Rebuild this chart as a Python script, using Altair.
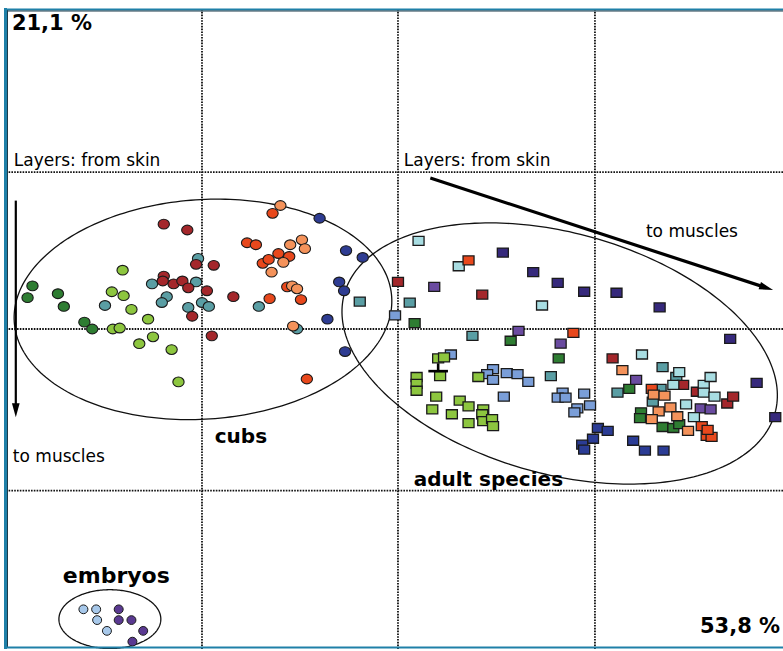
import altair as alt
import numpy as np
import pandas as pd

# ---------------- scale / layout values (PCA score units) ----------------
X_DOMAIN = [-4.0, 3.929]
Y_DOMAIN = [-3.265, 3.265]
GRID_X = [-2.0, 0.0, 2.01]
GRID_Y = [1.60, 0.0, -1.65]

# ---------------- cubs (circles) ----------------
cub_darkgreen_x = [-3.73, -3.78, -3.47, -3.41, -3.20, -3.12]
cub_darkgreen_y = [0.44, 0.32, 0.36, 0.23, 0.07, 0.00]
cub_lightgreen_x = [-2.81, -2.92, -2.80, -2.72, -2.55, -2.91, -2.84, -2.50, -2.64, -2.31, -2.24]
cub_lightgreen_y = [0.60, 0.38, 0.34, 0.20, 0.10, 0.00, 0.01, -0.08, -0.15, -0.21, -0.54]
cub_teal_x = [-2.51, -2.36, -2.41, -2.14, -2.99, -2.04, -2.06, -2.00, -1.93, -1.42, -1.03]
cub_teal_y = [0.46, 0.33, 0.27, 0.22, 0.24, 0.72, 0.48, 0.27, 0.23, 0.23, 0.00]
cub_darkred_x = [-2.39, -2.15, -2.39, -2.40, -2.29, -2.20, -2.14, -2.06, -2.10, -1.88, -1.95, -1.68, -1.90]
cub_darkred_y = [1.07, 1.01, 0.54, 0.49, 0.46, 0.49, 0.42, 0.66, 0.13, 0.65, 0.39, 0.33, -0.07]
cub_redorange_x = [-1.28, -1.54, -1.45, -1.38, -1.32, -1.22, -1.11, -1.31, -1.13, -0.99, -0.93]
cub_redorange_y = [1.18, 0.88, 0.86, 0.67, 0.71, 0.77, 0.74, 0.31, 0.43, 0.30, -0.51]
cub_lightorange_x = [-1.20, -1.10, -0.98, -0.95, -1.17, -1.29, -1.08, -1.03, -1.07]
cub_lightorange_y = [1.26, 0.86, 0.91, 0.82, 0.68, 0.58, 0.44, 0.41, 0.03]
cub_navy_x = [-0.80, -0.53, -0.36, -0.60, -0.55, -0.72, -0.54]
cub_navy_y = [1.13, 0.80, 0.73, 0.48, 0.39, 0.10, -0.23]

# ---------------- embryos (small circles) ----------------
emb_lightblue_x = [-3.21, -3.08, -3.07, -2.97]
emb_lightblue_y = [-2.86, -2.86, -2.97, -3.08]
emb_purple_x = [-2.85, -2.85, -2.72, -2.60, -2.71]
emb_purple_y = [-2.86, -2.97, -2.97, -3.08, -3.19]

# ---------------- adult species (squares) ----------------
ad_indigo_x = [1.07, 1.38, 1.63, 1.90, 2.23, 2.67, 3.39, 3.66, 3.85]
ad_indigo_y = [0.78, 0.58, 0.47, 0.38, 0.37, 0.22, -0.10, -0.55, -0.90]
ad_navy_x = [2.04, 2.14, 1.99, 1.88, 1.90, 2.40, 2.52, 2.71]
ad_navy_y = [-1.01, -1.04, -1.12, -1.18, -1.23, -1.14, -1.24, -1.24]
ad_cornflower_x = [-0.03, 0.54, 0.97, 0.91, 0.97, 1.11, 1.22, 1.33, 1.08, 1.68, 1.63, 1.71, 1.90, 1.96, 1.83, 1.80]
ad_cornflower_y = [0.14, -0.26, -0.41, -0.46, -0.52, -0.45, -0.46, -0.54, -0.69, -0.65, -0.70, -0.70, -0.66, -0.78, -0.81, -0.85]
ad_lightgreen_x = [0.41, 0.47, 0.43, 0.19, 0.19, 0.19, 0.39, 0.82, 0.35, 0.63, 0.72, 0.55, 0.87, 0.86, 0.72, 0.87, 0.96, 0.97]
ad_lightgreen_y = [-0.30, -0.29, -0.48, -0.49, -0.56, -0.63, -0.69, -0.49, -0.82, -0.73, -0.79, -0.87, -0.82, -0.87, -0.96, -0.94, -0.92, -0.99]
ad_teal_x = [-0.39, 0.12, 0.76, 1.56, 2.24, 2.70, 2.84, 2.68, 2.60]
ad_teal_y = [0.28, 0.27, -0.07, -0.48, -0.65, -0.39, -0.49, -0.61, -0.74]
ad_darkgreen_x = [0.17, 1.15, 1.64, 2.36, 2.48, 2.47, 2.70, 2.81, 2.87]
ad_darkgreen_y = [0.06, -0.12, -0.30, -0.61, -0.85, -0.91, -1.00, -1.01, -0.97]
ad_purple_x = [0.37, 1.23, 1.66, 2.43, 3.09, 3.19]
ad_purple_y = [0.43, -0.02, -0.15, -0.52, -0.81, -0.82]
ad_darkred_x = [0.00, 0.86, 2.19, 2.91, 3.05, 3.36, 3.42]
ad_darkred_y = [0.48, 0.35, -0.30, -0.57, -0.64, -0.76, -0.69]
ad_lightcyan_x = [0.21, 0.62, 1.47, 2.49, 2.87, 2.81, 3.12, 3.19, 3.12, 3.23, 2.94, 3.02]
ad_lightcyan_y = [0.90, 0.64, 0.24, -0.26, -0.44, -0.57, -0.57, -0.49, -0.65, -0.69, -0.77, -0.90]
ad_redorange_x = [0.72, 1.79, 2.59, 3.10, 3.15, 3.20, 3.16]
ad_redorange_y = [0.70, -0.04, -0.61, -0.99, -1.09, -1.10, -1.03]
ad_lightorange_x = [2.29, 2.61, 2.72, 2.66, 2.78, 2.85, 2.59, 2.96]
ad_lightorange_y = [-0.42, -0.67, -0.68, -0.84, -0.80, -0.89, -0.92, -1.04]

# series: (name, group, colour, xs, ys)
SERIES = [
    ("cub dark green", "cub", "#2E7D32", cub_darkgreen_x, cub_darkgreen_y),
    ("cub light green", "cub", "#8DC63F", cub_lightgreen_x, cub_lightgreen_y),
    ("cub teal", "cub", "#5A9EA4", cub_teal_x, cub_teal_y),
    ("cub dark red", "cub", "#A4272B", cub_darkred_x, cub_darkred_y),
    ("cub red orange", "cub", "#E8481C", cub_redorange_x, cub_redorange_y),
    ("cub light orange", "cub", "#F4925A", cub_lightorange_x, cub_lightorange_y),
    ("cub navy", "cub", "#2E3C92", cub_navy_x, cub_navy_y),
    ("embryo light blue", "emb", "#A7C8EA", emb_lightblue_x, emb_lightblue_y),
    ("embryo purple", "emb", "#5A3991", emb_purple_x, emb_purple_y),
    ("adult indigo", "adult", "#36297C", ad_indigo_x, ad_indigo_y),
    ("adult navy", "adult", "#2B3C95", ad_navy_x, ad_navy_y),
    ("adult cornflower", "adult", "#7A9ED8", ad_cornflower_x, ad_cornflower_y),
    ("adult light green", "adult", "#8DC63F", ad_lightgreen_x, ad_lightgreen_y),
    ("adult teal", "adult", "#5A9EA4", ad_teal_x, ad_teal_y),
    ("adult dark green", "adult", "#2E7D32", ad_darkgreen_x, ad_darkgreen_y),
    ("adult purple", "adult", "#6A4BA0", ad_purple_x, ad_purple_y),
    ("adult dark red", "adult", "#A4272B", ad_darkred_x, ad_darkred_y),
    ("adult light cyan", "adult", "#A8DDE2", ad_lightcyan_x, ad_lightcyan_y),
    ("adult red orange", "adult", "#E8481C", ad_redorange_x, ad_redorange_y),
    ("adult light orange", "adult", "#F4925A", ad_lightorange_x, ad_lightorange_y),
]

# ellipses: (name, centre x, centre y, semi-axis a, semi-axis b, angle deg)
ELLIPSES = [
    ("cubs", -1.99, 0.20, 1.93, 1.12, 3.8),
    ("adults", 1.65, -0.25, 2.28, 1.23, -15.5),
    ("embryos", -2.94, -2.96, 0.52, 0.30, 0.0),
]

# annotations: (text, x, y, size, weight, align)
LABELS = [
    ("21,1 %", -3.94, 3.05, 21, "bold", "left"),
    ("53,8 %", 3.90, -3.10, 21, "bold", "right"),
    ("Layers: from skin", -3.92, 1.66, 17, "normal", "left"),
    ("Layers: from skin", 0.06, 1.66, 17, "normal", "left"),
    ("to muscles", 2.53, 0.94, 17, "normal", "left"),
    ("to muscles", -3.93, -1.36, 17, "normal", "left"),
    ("cubs", -1.87, -1.16, 20, "bold", "left"),
    ("adult species", 0.16, -1.60, 20, "bold", "left"),
    ("embryos", -3.42, -2.59, 22, "bold", "left"),
]

# arrows: start (x, y), head centre (x, y), head angle, line width
ARROW_X = [-3.90, 0.33]
ARROW_Y = [1.31, 1.54]
ARROW_X2 = [-3.90, 3.76]
ARROW_Y2 = [-0.83, 0.42]
ARROW_ANGLE = [90, 18.1]
ARROW_WIDTH = [2.2, 3.2]

# small "T" mark on the adult cloud
TMARK_X = [0.41, 0.31]
TMARK_Y = [-0.35, -0.43]
TMARK_X2 = [0.41, 0.51]
TMARK_Y2 = [-0.43, -0.43]

# ---------------- build tables ----------------
rows = []
for name, grp, col, xs, ys in SERIES:
    for xv, yv in zip(xs, ys):
        rows.append({"series": name, "group": grp, "x": xv, "y": yv})
pts = pd.DataFrame(rows)
names = [s[0] for s in SERIES]
colors = [s[2] for s in SERIES]

ell_rows = []
t = np.linspace(0, 2 * np.pi, 241)
for name, cx, cy, a, b, ang in ELLIPSES:
    th = np.deg2rad(ang)
    ex = cx + a * np.cos(t) * np.cos(th) - b * np.sin(t) * np.sin(th)
    ey = cy + a * np.cos(t) * np.sin(th) + b * np.sin(t) * np.cos(th)
    for i, (xv, yv) in enumerate(zip(ex, ey)):
        ell_rows.append({"ell": name, "ord": i, "x": float(xv), "y": float(yv)})
ell = pd.DataFrame(ell_rows)

xs = alt.Scale(domain=X_DOMAIN, nice=False, zero=False)
ys = alt.Scale(domain=Y_DOMAIN, nice=False, zero=False)
fill = alt.Fill("series:N", scale=alt.Scale(domain=names, range=colors), legend=None)

CIRCLE = "M-1.1,0A1.1,0.95 0 1,0 1.1,0A1.1,0.95 0 1,0 -1.1,0Z"
EMB = "M-0.9,0A0.9,0.88 0 1,0 0.9,0A0.9,0.88 0 1,0 -0.9,0Z"
SQUARE = "M-1.1,-0.9H1.1V0.9H-1.1Z"
HEAD = "M1,0L-1,-0.55L-1,0.55Z"

TEAL = "#1F80A8"

grid_v = alt.Chart(pd.DataFrame({"x": GRID_X})).mark_rule(
    color="#111", strokeWidth=1.8, strokeDash=[1.6, 1.2]
).encode(x=alt.X("x:Q", scale=xs, axis=None))
grid_h = alt.Chart(pd.DataFrame({"y": GRID_Y})).mark_rule(
    color="#111", strokeWidth=1.8, strokeDash=[1.6, 1.2]
).encode(y=alt.Y("y:Q", scale=ys, axis=None))

ellipses = alt.Chart(ell).mark_line(color="#111", strokeWidth=1.3).encode(
    x=alt.X("x:Q", scale=xs, axis=None),
    y=alt.Y("y:Q", scale=ys, axis=None),
    detail="ell:N",
    order="ord:Q",
)

def pts_layer(group, shape, size, sw):
    return alt.Chart(pts[pts["group"] == group]).mark_point(
        shape=shape, size=size, filled=True, opacity=1, stroke="#1a1a1a", strokeWidth=sw
    ).encode(
        x=alt.X("x:Q", scale=xs, axis=None),
        y=alt.Y("y:Q", scale=ys, axis=None),
        fill=fill,
    )

cubs = pts_layer("cub", CIRCLE, 105, 1.1)
adults = pts_layer("adult", SQUARE, 100, 1.3)
embryos = pts_layer("emb", EMB, 100, 1.0)

arr = pd.DataFrame({"x": ARROW_X, "y": ARROW_Y, "x2": ARROW_X2, "y2": ARROW_Y2,
                    "ang": ARROW_ANGLE, "w": ARROW_WIDTH})
arrow_lines = alt.Chart(arr).mark_rule(color="#000").encode(
    x=alt.X("x:Q", scale=xs, axis=None), y=alt.Y("y:Q", scale=ys, axis=None),
    x2="x2:Q", y2="y2:Q", strokeWidth=alt.StrokeWidth("w:Q", scale=None),
)
arrow_heads = alt.Chart(arr).mark_point(
    shape=HEAD, size=196, filled=True, color="#000", opacity=1
).encode(
    x=alt.X("x2:Q", scale=xs, axis=None), y=alt.Y("y2:Q", scale=ys, axis=None),
    angle=alt.Angle("ang:Q", scale=None),
)

tmark = alt.Chart(pd.DataFrame({"x": TMARK_X, "y": TMARK_Y, "x2": TMARK_X2, "y2": TMARK_Y2})).mark_rule(
    color="#000", strokeWidth=2.6
).encode(
    x=alt.X("x:Q", scale=xs, axis=None), y=alt.Y("y:Q", scale=ys, axis=None), x2="x2:Q", y2="y2:Q"
)

texts = []
for txt, tx, ty, fs, fw, al in LABELS:
    texts.append(
        alt.Chart(pd.DataFrame({"x": [tx], "y": [ty], "t": [txt]})).mark_text(
            font="DejaVu Sans", fontSize=fs, fontWeight=fw, align=al, baseline="alphabetic", color="#000"
        ).encode(
            x=alt.X("x:Q", scale=xs, axis=None), y=alt.Y("y:Q", scale=ys, axis=None), text="t:N"
        )
    )

border_left = alt.Chart(pd.DataFrame({"a": [0]})).mark_rule(color=TEAL, strokeWidth=3).encode(
    x=alt.value(-0.5), y=alt.value(-1), y2=alt.value(640))
border_left_in = alt.Chart(pd.DataFrame({"a": [0]})).mark_rule(color="#1d3b4a", strokeWidth=1).encode(
    x=alt.value(1.5), y=alt.value(1), y2=alt.value(639))
border_top = alt.Chart(pd.DataFrame({"a": [0]})).mark_rule(color=TEAL, strokeWidth=2).encode(
    x=alt.value(-2), x2=alt.value(790), y=alt.value(0.5))
border_top_in = alt.Chart(pd.DataFrame({"a": [0]})).mark_rule(color="#1d3b4a", strokeWidth=1).encode(
    x=alt.value(1), x2=alt.value(790), y=alt.value(2))
border_bottom = alt.Chart(pd.DataFrame({"a": [0]})).mark_rule(color=TEAL, strokeWidth=2).encode(
    x=alt.value(-2), x2=alt.value(790), y=alt.value(638.5))

chart = alt.layer(
    grid_v, grid_h, ellipses, cubs, embryos, adults, tmark, arrow_lines, arrow_heads,
    *texts, border_left, border_left_in, border_top, border_top_in, border_bottom,
).properties(
    width=777, height=640,
    padding={"left": 6, "top": 9, "right": 0, "bottom": 0},
    autosize=alt.AutoSizeParams(type="none"),
    background="white",
).configure_view(stroke=None)

chart.save("out.html", embed_options={"renderer": "svg", "actions": False})
